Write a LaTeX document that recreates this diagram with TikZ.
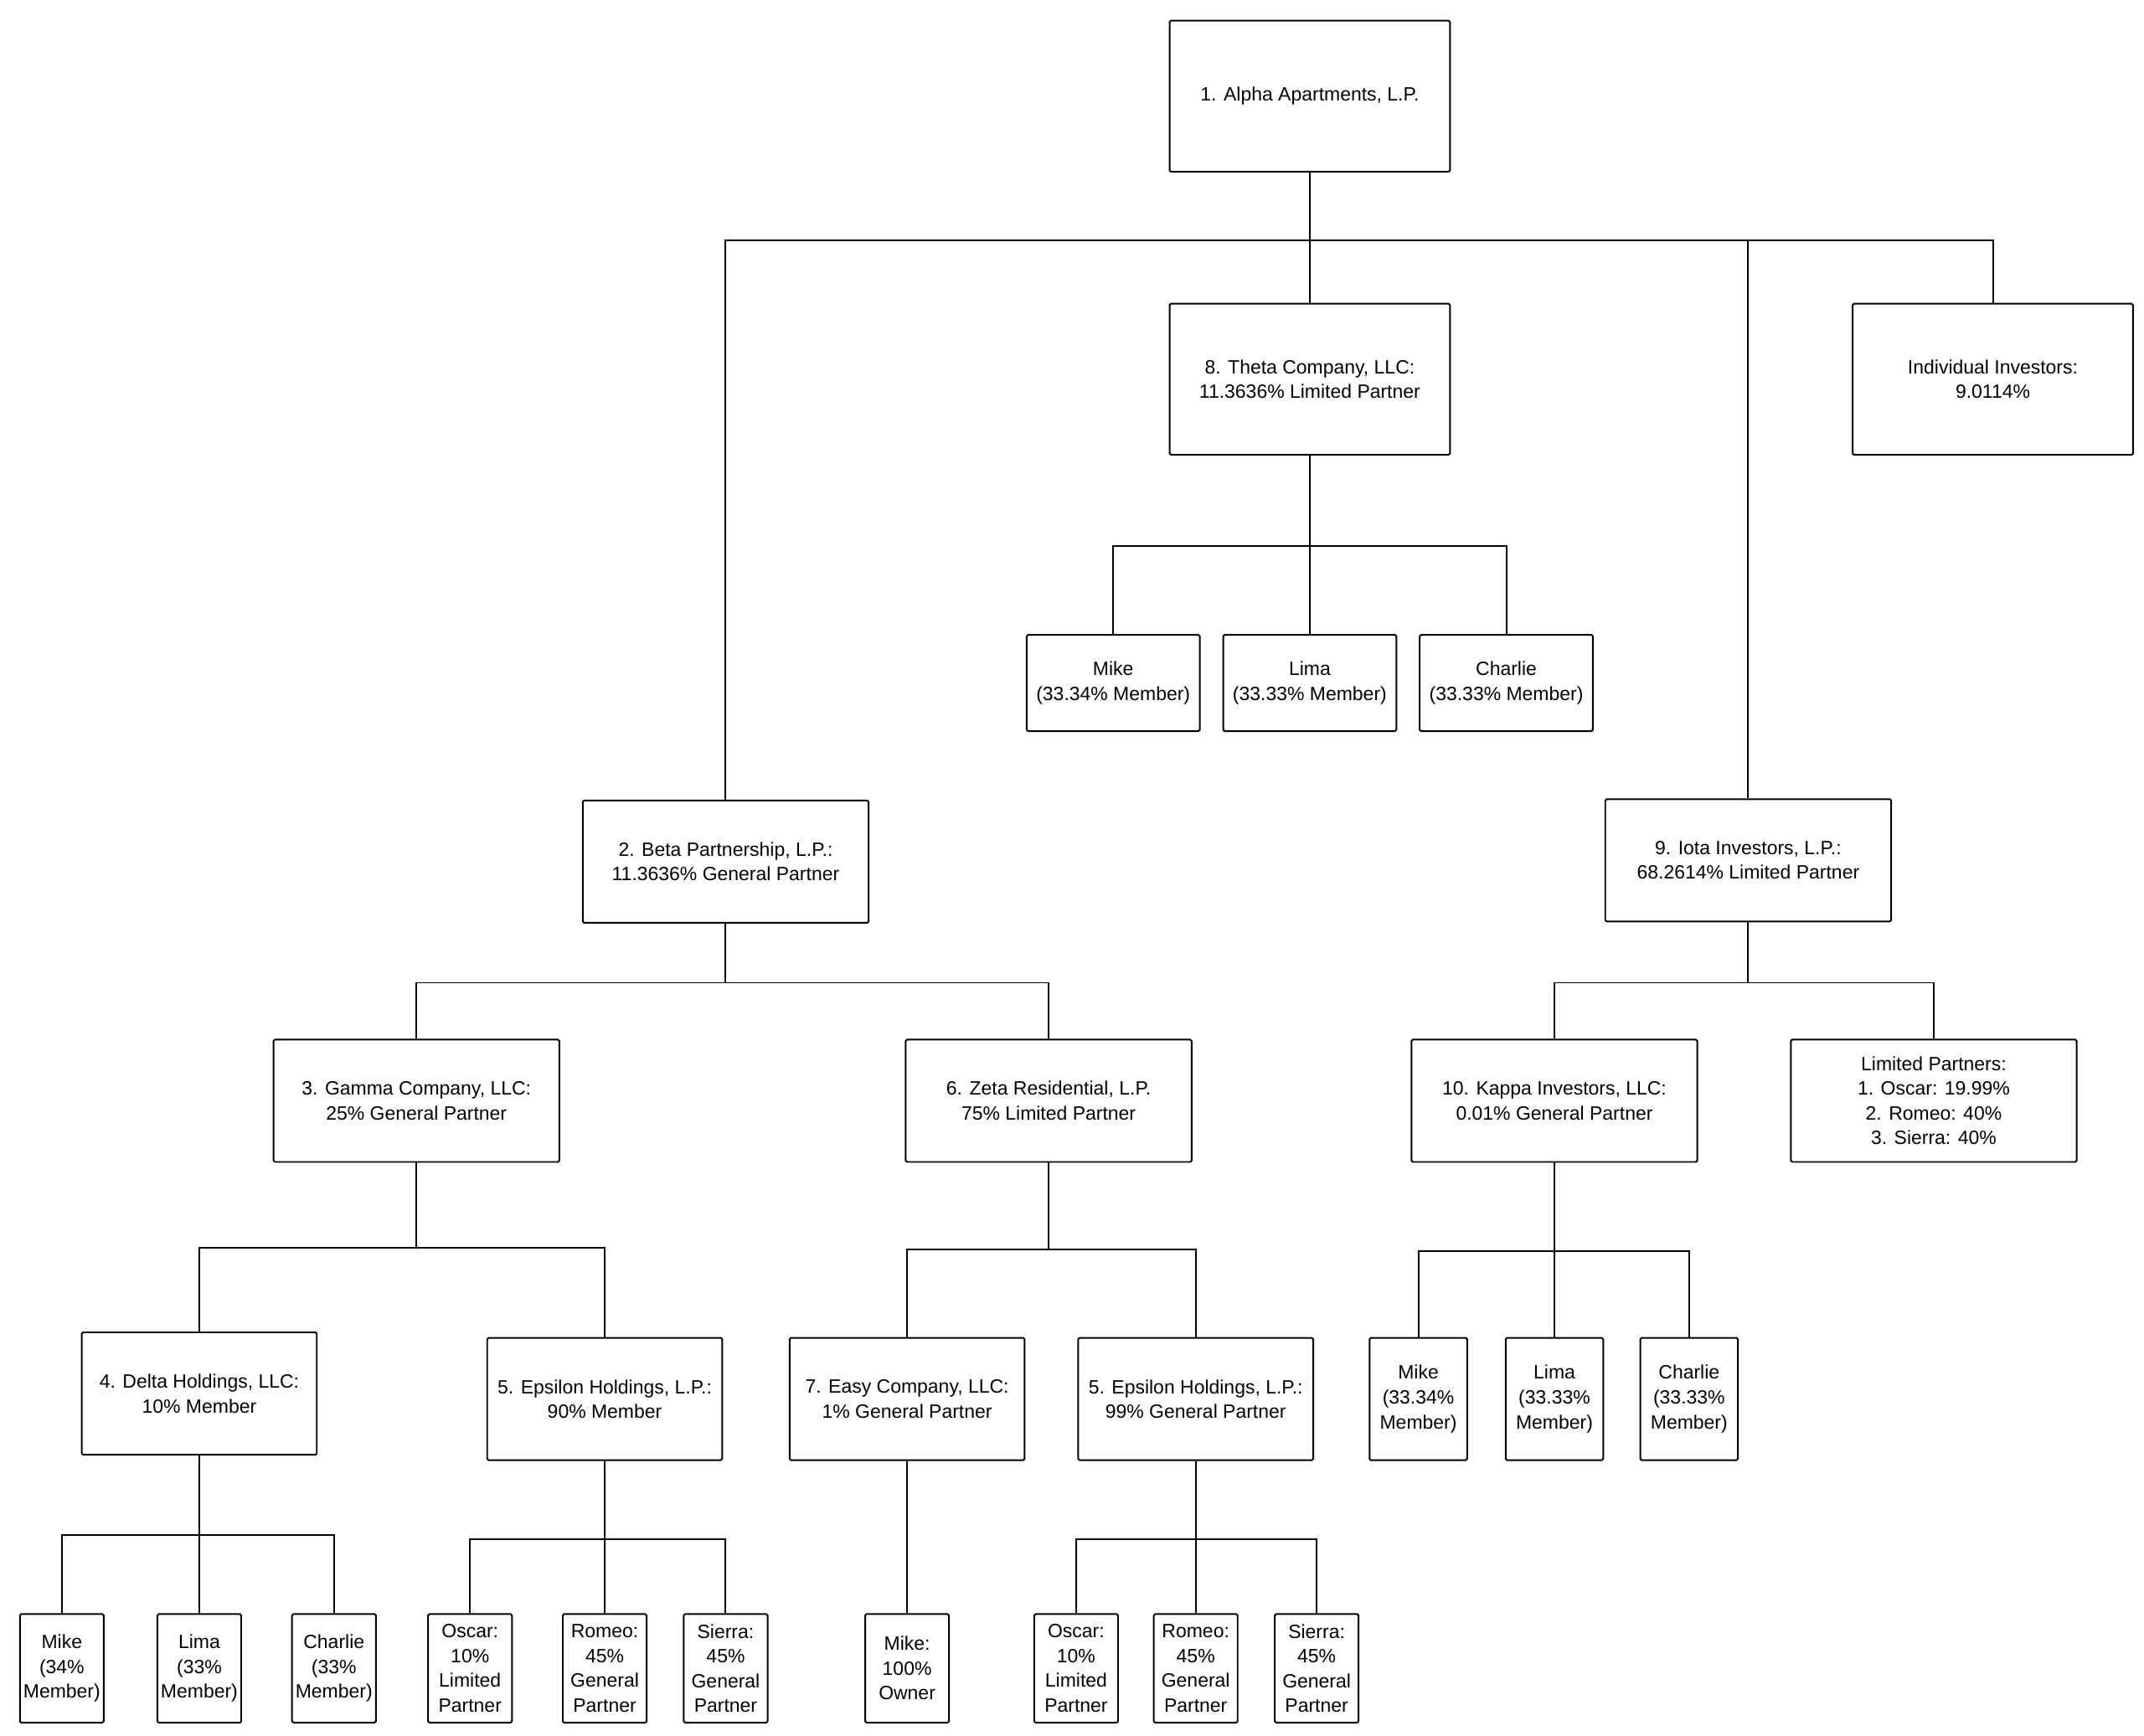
\documentclass[tikz,border=0pt]{standalone}
\usepackage{fontspec}
\setmainfont{Liberation Sans}
\usetikzlibrary{positioning}
\tikzstyle{entity} = [rectangle, rounded corners=1pt, inner sep=0pt, align=center, draw=black, line width=1.2pt, font=\fontsize{14}{18}\selectfont]
\tikzstyle{big} = [entity, minimum width=204pt, minimum height=110pt]
\tikzstyle{mid} = [entity, minimum width=208pt, minimum height=89pt]
\tikzstyle{small} = [entity, minimum width=171pt, minimum height=89pt]
\tikzstyle{member} = [entity, minimum width=126pt, minimum height=70pt]
\tikzstyle{thin} = [entity, minimum width=71pt, minimum height=89pt]
\tikzstyle{leaf} = [entity, minimum width=61pt, minimum height=79pt]
\tikzstyle{link} = [line width=1.2pt]

\begin{document}
\begin{tikzpicture}[x=1pt,y=-1pt]
\useasboundingbox (0,0) rectangle (1560,1263);

\node (alpha) [big] at (953,70) {1. Alpha Apartments, L.P.};
\node (theta) [big] at (953,276) {8. Theta Company, LLC:\\11.3636\% Limited Partner};
\node (indiv) [big] at (1450,276) {Individual Investors:\\9.0114\%};
\node (tmike) [member] at (810,497) {Mike\\(33.34\% Member)};
\node (tlima) [member] at (953,497) {Lima\\(33.33\% Member)};
\node (tcharlie) [member] at (1096,497) {Charlie\\(33.33\% Member)};
\node (beta) [mid] at (528,627) {2. Beta Partnership, L.P.:\\11.3636\% General Partner};
\node (iota) [mid] at (1272,626) {9. Iota Investors, L.P.:\\68.2614\% Limited Partner};
\node (gamma) [mid] at (303,801) {3. Gamma Company, LLC:\\25\% General Partner};
\node (zeta) [mid] at (763,801) {6. Zeta Residential, L.P.\\75\% Limited Partner};
\node (kappa) [mid] at (1131,801) {10. Kappa Investors, LLC:\\0.01\% General Partner};
\node (lps) [mid] at (1407,801) {Limited Partners:\\1. Oscar: 19.99\%\\2. Romeo: 40\%\\3. Sierra: 40\%};
\node (delta) [small] at (145,1014) {4. Delta Holdings, LLC:\\10\% Member};
\node (epsa) [small] at (440,1018) {5. Epsilon Holdings, L.P.:\\90\% Member};
\node (easy) [small] at (660,1018) {7. Easy Company, LLC:\\1\% General Partner};
\node (epsb) [small] at (870,1018) {5. Epsilon Holdings, L.P.:\\99\% General Partner};
\node (kmike) [thin] at (1032,1018) {Mike\\(33.34\%\\Member)};
\node (klima) [thin] at (1131,1018) {Lima\\(33.33\%\\Member)};
\node (kcharlie) [thin] at (1229,1018) {Charlie\\(33.33\%\\Member)};
\node (dmike) [leaf] at (45,1214) {Mike\\(34\%\\Member)};
\node (dlima) [leaf] at (145,1214) {Lima\\(33\%\\Member)};
\node (dcharlie) [leaf] at (243,1214) {Charlie\\(33\%\\Member)};
\node (aoscar) [leaf] at (342,1214) {Oscar:\\10\%\\Limited\\Partner};
\node (aromeo) [leaf] at (440,1214) {Romeo:\\45\%\\General\\Partner};
\node (asierra) [leaf] at (528,1214) {Sierra:\\45\%\\General\\Partner};
\node (emike) [leaf] at (660,1214) {Mike:\\100\%\\Owner};
\node (boscar) [leaf] at (783,1214) {Oscar:\\10\%\\Limited\\Partner};
\node (bromeo) [leaf] at (870,1214) {Romeo:\\45\%\\General\\Partner};
\node (bsierra) [leaf] at (958,1214) {Sierra:\\45\%\\General\\Partner};

% ownership links
\foreach \c in {beta,theta,iota,indiv}
  \draw [link] (alpha.south) -- ++(0,49) -| (\c.north);
\foreach \c in {tmike,tlima,tcharlie}
  \draw [link] (theta.south) -- ++(0,66) -| (\c.north);
\foreach \c in {gamma,zeta}
  \draw [link] (beta.south) -- ++(0,43) -| (\c.north);
\foreach \c in {kappa,lps}
  \draw [link] (iota.south) -- ++(0,44) -| (\c.north);
\foreach \c in {delta,epsa}
  \draw [link] (gamma.south) -- ++(0,62) -| (\c.north);
\foreach \c in {easy,epsb}
  \draw [link] (zeta.south) -- ++(0,63) -| (\c.north);
\foreach \c in {kmike,klima,kcharlie}
  \draw [link] (kappa.south) -- ++(0,64) -| (\c.north);
\foreach \c in {dmike,dlima,dcharlie}
  \draw [link] (delta.south) -- ++(0,58) -| (\c.north);
\foreach \c in {aoscar,aromeo,asierra}
  \draw [link] (epsa.south) -- ++(0,57) -| (\c.north);
\draw [link] (easy) -- (emike);
\foreach \c in {boscar,bromeo,bsierra}
  \draw [link] (epsb.south) -- ++(0,57) -| (\c.north);

\end{tikzpicture}
\end{document}
